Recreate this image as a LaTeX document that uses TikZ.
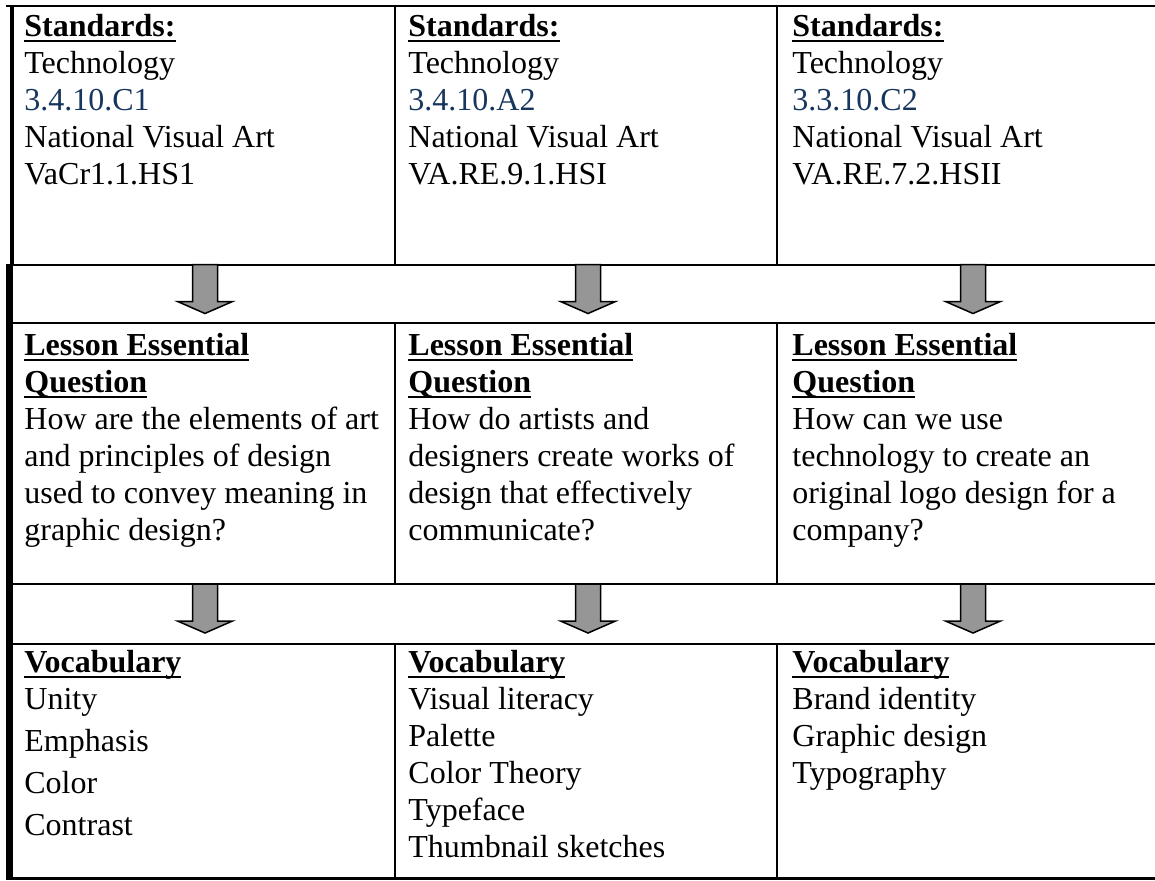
\documentclass[tikz,border=0pt]{standalone}
\usepackage{fontspec}
\setmainfont{Liberation Serif}
\definecolor{navy}{RGB}{23,54,93}
\definecolor{arrowgray}{RGB}{150,150,150}
\newcommand\cellfont{\fontsize{16pt}{18.5pt}\selectfont}
\newcommand\hdr[1]{\setbox0=\hbox{\bfseries #1}\rlap{\rule[-2.9pt]{\wd0}{0.8pt}}\box0}
\newcommand\celltab[1]{\begin{tabular}[t]{@{}l@{}}#1\end{tabular}}
\newcommand\barrow[1]{\draw[blockarrow] (#1) ++(-12.5,0) -- ++(0,37) -- ++(-15,0) -- ++(27.5,12) -- ++(27.5,-12) -- ++(-15,0) -- ++(0,-37) -- cycle;}
\begin{document}
\begin{tikzpicture}[x=0.5pt,y=-0.5pt,
  rule/.style={line width=1pt, black},
  cell/.style={anchor=base west, inner sep=0pt, font=\cellfont},
  blockarrow/.style={fill=arrowgray, draw=black, line width=0.75pt, line join=miter}]
\useasboundingbox (0,0) rectangle (1155,880);
\fill[white] (0,0) rectangle (1155,880);
% grid lines
\draw[rule] (6,6) -- (1155,6);
\draw[rule] (6,264.5) -- (1155,264.5);
\draw[rule] (6,323) -- (1155,323);
\draw[rule] (6,584) -- (1155,584);
\draw[rule] (6,644) -- (1155,644);
\draw[line width=1.5pt] (6,878.5) -- (1155,878.5);
\foreach \x in {394.5,777} {
  \draw[rule] (\x,6) -- (\x,264.5);
  \draw[rule] (\x,323) -- (\x,584);
  \draw[rule] (\x,644) -- (\x,878.5);
}
\fill (10,5) rectangle (14,265);
\fill (6,264) rectangle (13,880);
% row 1
\node[cell] (s1) at (24,36) {\celltab{\hdr{Standards:}\\ Technology\\ \textcolor{navy}{3.4.10.C1}\\ National Visual Art\\ VaCr1.1.HS1}};
\node[cell] (s2) at (408,36) {\celltab{\hdr{Standards:}\\ Technology\\ \textcolor{navy}{3.4.10.A2}\\ National Visual Art\\ VA.RE.9.1.HSI}};
\node[cell] (s3) at (792,36) {\celltab{\hdr{Standards:}\\ Technology\\ \textcolor{navy}{3.3.10.C2}\\ National Visual Art\\ VA.RE.7.2.HSII}};
% row 2
\node[cell] (q1) at (24,355) {\celltab{\hdr{Lesson Essential}\\ \hdr{Question}\\ How are the elements of art\\ and principles of design\\ used to convey meaning in\\ graphic design?}};
\node[cell] (q2) at (408,355) {\celltab{\hdr{Lesson Essential}\\ \hdr{Question}\\ How do artists and\\ designers create works of\\ design that effectively\\ communicate?}};
\node[cell] (q3) at (792,355) {\celltab{\hdr{Lesson Essential}\\ \hdr{Question}\\ How can we use\\ technology to create an\\ original logo design for a\\ company?}};
% row 3
\node[cell] (v1) at (24,672) {\celltab{\hdr{Vocabulary}\\ Unity\\[2.5pt] Emphasis\\[2.5pt] Color\\[2.5pt] Contrast}};
\node[cell] (v2) at (408,672) {\celltab{\hdr{Vocabulary}\\ Visual literacy\\ Palette\\ Color Theory\\ Typeface\\ Thumbnail sketches}};
\node[cell] (v3) at (792,672) {\celltab{\hdr{Vocabulary}\\ Brand identity\\ Graphic design\\ Typography}};
% arrows
\coordinate (a11) at (205,264.5);
\coordinate (a12) at (588,264.5);
\coordinate (a13) at (973,264.5);
\coordinate (a21) at (205,584);
\coordinate (a22) at (588,584);
\coordinate (a23) at (973,584);
\foreach \c in {a11,a12,a13,a21,a22,a23} {\barrow{\c}}
\end{tikzpicture}
\end{document}
